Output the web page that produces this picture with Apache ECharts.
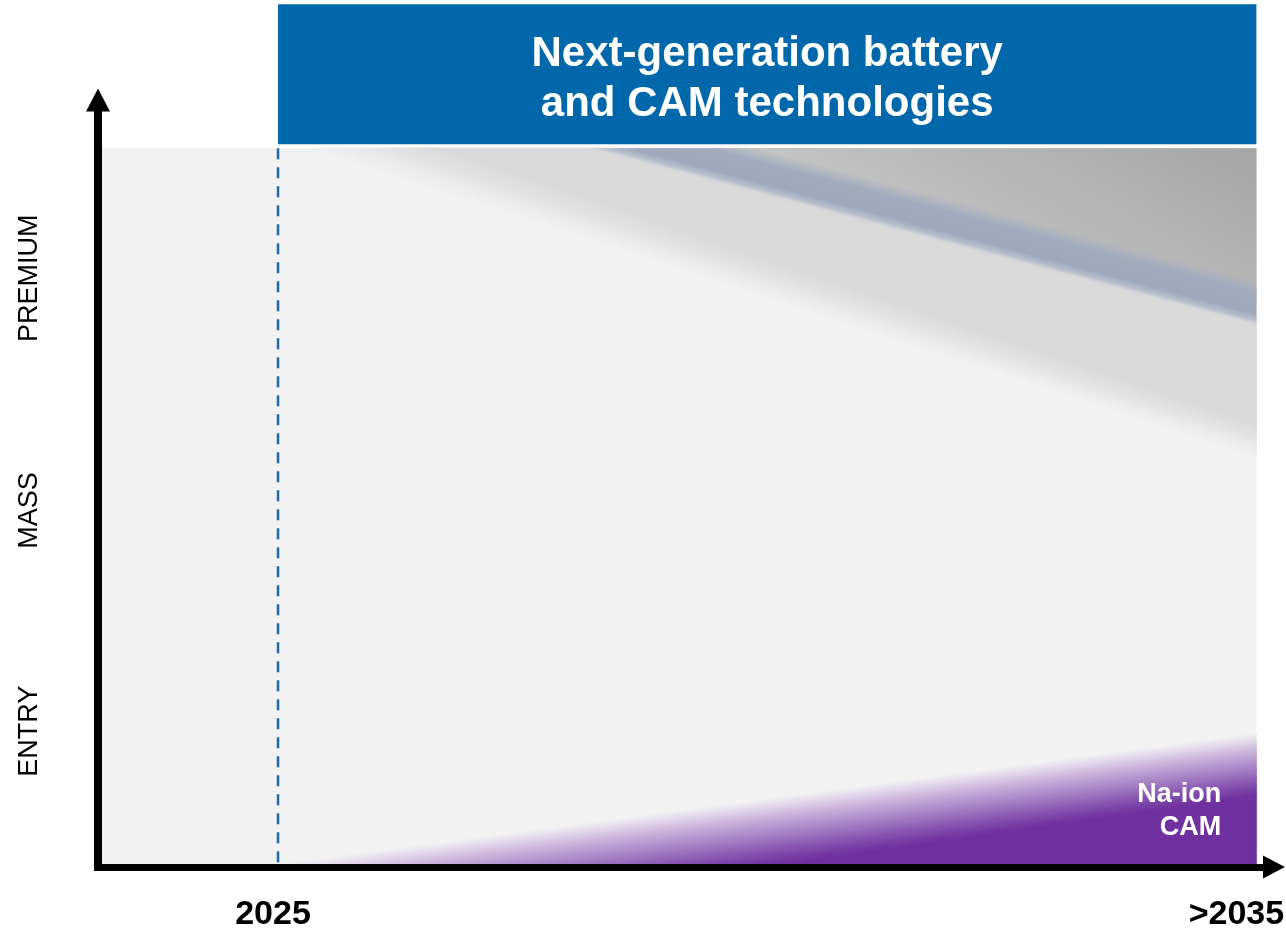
<!DOCTYPE html>
<html>
<head>
<meta charset="utf-8">
<script src="https://cdn.jsdelivr.net/npm/echarts@6/dist/echarts.min.js"></script>
<style>
html, body { margin: 0; padding: 0; background: #ffffff; }
#chart { width: 1286px; height: 929px; }
</style>
</head>
<body>
<div id="chart"></div>
<script>
// ---------------- data ----------------
const titleText = 'Next-generation battery\nand CAM technologies';
const segments = ['ENTRY', 'MASS', 'PREMIUM'];
const segmentPos = [18.9, 49.6, 81.9];
const yearTicks = [2025, 2035];
const yearLabels = ['2025', '>2035'];
const xRange = [2023.16, 2035.18];
const yRange = [0, 106.7];
const plotArea = [[2023.16, 0], [2035, 100]];
const titleBox = [[2025, 100.56], [2035, 120.03]];
const milestoneLine = [[2025, 100], [2025, 0]];
const premiumSolidEdge = [[2026.63, 100], [2035, 61.5]];
const premiumFadeEdge = [[2025.3, 100], [2035, 56.9]];
const darkZoneEdge = [[2028.9, 100], [2035, 78.6]];
const stripeUpperEdge = [[2029.9, 100], [2035, 81.6]];
const stripeLowerEdge = [[2028.1, 100], [2035, 75.5]];
const naIonSolidEdge = [[2029.9, 0], [2035, 10.0]];
const naIonFadeEdge = [[2024.8, 0], [2035, 18.6]];
const naIonLabel = 'Na-ion\nCAM';
const naIonLabelPos = [2034.64, 7.8];

// ---------------- helpers ----------------
const FONT = '"Liberation Sans", Arial, Helvetica, sans-serif';
function lerp(a, b, t) { return [a[0] + (b[0] - a[0]) * t, a[1] + (b[1] - a[1]) * t]; }
function colorAt(stops, t) {
  for (let i = 0; i < stops.length - 1; i++) {
    const s0 = stops[i], s1 = stops[i + 1];
    if (t <= s1[0]) {
      const k = (t - s0[0]) / (s1[0] - s0[0]);
      const c = s0[1].map((v, j) => Math.round(v + (s1[1][j] - v) * k));
      return 'rgb(' + c.join(',') + ')';
    }
  }
  return 'rgb(' + stops[stops.length - 1][1].join(',') + ')';
}
function fan(api, solidEdge, fadeEdge, stops, n) {
  const s0 = api.coord(solidEdge[0]), s1 = api.coord(solidEdge[1]);
  const f0 = api.coord(fadeEdge[0]), f1 = api.coord(fadeEdge[1]);
  const children = [];
  for (let i = n - 1; i >= 0; i--) {
    const t0 = i / n, t1 = (i + 1) / n;
    const a0 = lerp(s0, f0, t0), a1 = lerp(s1, f1, t0);
    const b0 = lerp(s0, f0, t1), b1 = lerp(s1, f1, t1);
    const c = colorAt(stops, (t0 + t1) / 2);
    children.push({ type: 'polygon', shape: { points: [a0, a1, b1, b0] },
      style: { fill: c, stroke: c, lineWidth: 0.8 } });
  }
  return children;
}
function shapeSeries(name, z, fn) {
  return {
    type: 'custom', name: name, silent: true, z: z, clip: false,
    data: [[2030, 50]],
    renderItem: function (params, api) { return { type: 'group', children: fn(api) }; }
  };
}

const grayFadeStops = [[0, [217, 217, 217]], [1, [242, 242, 242]]];
const purpleFadeStops = [[0, [112, 48, 160]], [0.12, [124, 68, 168]], [0.4, [160, 120, 193]], [0.7, [199, 176, 217]], [0.88, [226, 216, 234]], [1, [242, 242, 242]]];

const chart = echarts.init(document.getElementById('chart'), null, { renderer: 'canvas', width: 1286, height: 929 });

const option = {
  animation: false,
  backgroundColor: '#ffffff',
  grid: { left: 98, right: 12, top: 100, bottom: 62, containLabel: false, outerBoundsMode: 'none' },
  xAxis: {
    type: 'value', min: xRange[0], max: xRange[1], z: 10,
    axisLine: { show: true, symbol: ['none', 'triangle'], symbolSize: [23, 22],
      lineStyle: { color: '#000000', width: 7, cap: 'square' } },
    axisTick: { show: false }, splitLine: { show: false },
    axisLabel: {
      show: true, customValues: yearTicks, margin: 31,
      formatter: function (v) {
        const i = yearTicks.findIndex(t => Math.abs(t - v) < 1e-6);
        return (i === 0 ? '{a|' : '{b|') + yearLabels[i] + '}';
      },
      rich: {
        a: { fontSize: 34, fontWeight: 'bold', fontFamily: FONT, color: '#000', lineHeight: 34, padding: [0, 10, 0, 0] },
        b: { fontSize: 34, fontWeight: 'bold', fontFamily: FONT, color: '#000', lineHeight: 34, padding: [0, 40, 0, 0] }
      }
    }
  },
  yAxis: {
    type: 'value', min: yRange[0], max: yRange[1], z: 10,
    axisLine: { show: true, symbol: ['none', 'triangle'], symbolSize: [24, 23],
      lineStyle: { color: '#000000', width: 8, cap: 'square' } },
    axisTick: { show: false }, splitLine: { show: false },
    axisLabel: {
      show: true, customValues: segmentPos, rotate: 90, margin: 53,
      fontSize: 27, fontFamily: FONT, color: '#000', lineHeight: 30,
      formatter: function (v) {
        const i = segmentPos.findIndex(t => Math.abs(t - v) < 1e-6);
        return segments[i];
      }
    }
  },
  series: [
    shapeSeries('plot', 1, function (api) {
      const p0 = api.coord(plotArea[0]), p1 = api.coord(plotArea[1]);
      return [{ type: 'rect', shape: { x: p0[0], y: p1[1], width: p1[0] - p0[0], height: p0[1] - p1[1] },
        style: { fill: '#f2f2f2' } }];
    }),
    shapeSeries('premium band', 2, function (api) {
      const a = api.coord(premiumSolidEdge[0]), b = api.coord(premiumSolidEdge[1]);
      const tr = api.coord([premiumSolidEdge[1][0], premiumSolidEdge[0][1]]);
      return fan(api, premiumSolidEdge, premiumFadeEdge, grayFadeStops, 40).concat([
        { type: 'polygon', shape: { points: [a, tr, b] }, style: { fill: '#d9d9d9', stroke: '#d9d9d9', lineWidth: 0.8 } }
      ]);
    }),
    shapeSeries('dark zone', 3, function (api) {
      const a = api.coord(darkZoneEdge[0]), b = api.coord(darkZoneEdge[1]);
      const tr = api.coord([darkZoneEdge[1][0], darkZoneEdge[0][1]]);
      const grad = new echarts.graphic.LinearGradient(tr[0] - 143, tr[1] + 252, tr[0], tr[1],
        [{ offset: 0, color: '#c8c8c8' }, { offset: 1, color: '#a5a5a5' }], true);
      return [{ type: 'polygon', shape: { points: [a, tr, b] }, style: { fill: grad } }];
    }),
    shapeSeries('stripe', 4, function (api) {
      const u0 = api.coord(stripeUpperEdge[0]), u1 = api.coord(stripeUpperEdge[1]);
      const l0 = api.coord(stripeLowerEdge[0]), l1 = api.coord(stripeLowerEdge[1]);
      const dx = u1[0] - u0[0], dy = u1[1] - u0[1], len = Math.hypot(dx, dy);
      const nx = -dy / len, ny = dx / len;
      const m = [(u0[0] + u1[0]) / 2, (u0[1] + u1[1]) / 2];
      const th = (l0[0] - u0[0]) * nx + (l0[1] - u0[1]) * ny;
      const thR = (l1[0] - u0[0]) * nx + (l1[1] - u0[1]) * ny;
      const t = (th + thR) / 2;
      const grad = new echarts.graphic.LinearGradient(m[0], m[1], m[0] + nx * t, m[1] + ny * t, [
        { offset: 0, color: 'rgba(160,170,190,0)' },
        { offset: 0.3, color: 'rgba(161,171,189,1)' },
        { offset: 0.75, color: 'rgba(158,169,189,1)' },
        { offset: 0.9, color: 'rgba(176,185,203,0.8)' },
        { offset: 1, color: 'rgba(200,205,215,0)' }
      ], true);
      return [{ type: 'polygon', shape: { points: [u0, u1, l1, l0] }, style: { fill: grad } }];
    }),
    shapeSeries('Na-ion CAM', 5, function (api) {
      const a = api.coord(naIonSolidEdge[0]), b = api.coord(naIonSolidEdge[1]);
      const br = api.coord([naIonSolidEdge[1][0], naIonSolidEdge[0][1]]);
      const lp = api.coord(naIonLabelPos);
      return fan(api, naIonSolidEdge, naIonFadeEdge, purpleFadeStops, 48).concat([
        { type: 'polygon', shape: { points: [a, b, br] }, style: { fill: '#7030a0', stroke: '#7030a0', lineWidth: 0.8 } },
        { type: 'text', style: { text: naIonLabel, x: lp[0], y: lp[1], fill: '#ffffff', fontSize: 27, fontWeight: 'bold',
          fontFamily: FONT, align: 'right', verticalAlign: 'middle', lineHeight: 33 } }
      ]);
    }),
    shapeSeries('milestone', 6, function (api) {
      const p0 = api.coord(milestoneLine[0]), p1 = api.coord(milestoneLine[1]);
      return [{ type: 'line', shape: { x1: p0[0], y1: p0[1], x2: p1[0], y2: p1[1] },
        style: { stroke: '#1a6aad', lineWidth: 2.5, lineDash: [11, 8] } }];
    }),
    shapeSeries('title', 7, function (api) {
      const p0 = api.coord(titleBox[0]), p1 = api.coord(titleBox[1]);
      return [
        { type: 'rect', shape: { x: p0[0], y: p1[1], width: p1[0] - p0[0], height: p0[1] - p1[1] }, style: { fill: '#0067aa' } },
        { type: 'text', style: { text: titleText, x: (p0[0] + p1[0]) / 2, y: (p0[1] + p1[1]) / 2 + 5, fill: '#ffffff',
          fontSize: 42, fontWeight: 'bold', fontFamily: FONT, align: 'center', verticalAlign: 'middle', lineHeight: 50 } }
      ];
    })
  ]
};
chart.setOption(option);
</script>
</body>
</html>
